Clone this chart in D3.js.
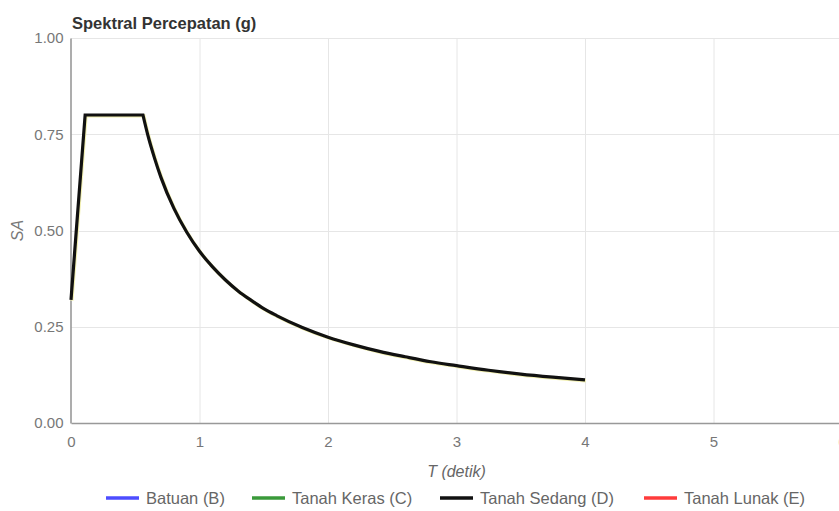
<!DOCTYPE html>
<html>
<head>
<meta charset="utf-8">
<script src="https://cdn.jsdelivr.net/npm/d3@7"></script>
<style>
	body { margin: 0; background: #fff; font-family: 'Liberation Sans', Arial, sans-serif; overflow: hidden; }
</style>
</head>
<body>
<script>
// DATA
const periods = [0, 0.11, 0.56, 0.6, 0.65, 0.7, 0.8, 0.9, 1.0, 1.1, 1.2, 1.3, 1.4, 1.5, 1.6, 1.8, 2.0, 2.2, 2.4, 2.6, 2.8, 3.0, 3.25, 3.5, 3.75, 4.0];
const saSedang = [0.32, 0.80, 0.80, 0.745, 0.688, 0.638, 0.558, 0.496, 0.446, 0.406, 0.372, 0.343, 0.319, 0.297, 0.279, 0.248, 0.223, 0.203, 0.186, 0.172, 0.159, 0.149, 0.137, 0.127, 0.119, 0.112];
const seriesNames = ['Batuan (B)', 'Tanah Keras (C)', 'Tanah Sedang (D)', 'Tanah Lunak (E)'];
const seriesColors = ['#4d4dff', '#3a9a3a', '#111111', '#ff3b3b'];
const xTicks = [0, 1, 2, 3, 4, 5, 6];
const yTicks = [0, 0.25, 0.5, 0.75, 1.0];

// CONFIGURATION
const width = 839;
const height = 511;
const margin = { top: 38, left: 71, bottom: 88 };
const plotRight = 842;

const svg = d3.select('body')
	.append('svg')
	.attr('width', width)
	.attr('height', height);

const xScale = d3.scaleLinear()
	.domain([0, 6])
	.range([margin.left, plotRight]);
const yScale = d3.scaleLinear()
	.domain([0, 1])
	.range([height - margin.bottom, margin.top]);

// GRID
svg.append('g')
	.selectAll('line')
	.data(xTicks.slice(1))
	.enter()
	.append('line')
	.attr('x1', d => xScale(d) + 0.5)
	.attr('x2', d => xScale(d) + 0.5)
	.attr('y1', yScale(1))
	.attr('y2', yScale(0))
	.attr('stroke', '#e6e6e6');
svg.append('g')
	.selectAll('line')
	.data(yTicks.slice(1))
	.enter()
	.append('line')
	.attr('x1', xScale(0))
	.attr('x2', plotRight)
	.attr('y1', d => Math.round(yScale(d)) + 0.5)
	.attr('y2', d => Math.round(yScale(d)) + 0.5)
	.attr('stroke', '#e6e6e6');

// AXES
const xAxis = d3.axisBottom(xScale)
	.tickValues(xTicks)
	.tickSize(0)
	.tickPadding(13)
	.tickFormat(d3.format('d'));
const gx = svg.append('g')
	.attr('transform', `translate(0, ${yScale(0)})`)
	.call(xAxis);

const yAxis = d3.axisLeft(yScale)
	.tickValues(yTicks)
	.tickSize(0)
	.tickPadding(7)
	.tickFormat(d3.format('.2f'));
const gy = svg.append('g')
	.attr('transform', `translate(${xScale(0) - 0.5}, 0)`)
	.call(yAxis);

[gx, gy].forEach(g => {
	g.select('.domain').attr('stroke', '#999').attr('stroke-width', 1.6);
	g.selectAll('text')
		.attr('fill', '#777')
		.style('font-size', '15px')
		.style('font-family', 'Liberation Sans, Arial, sans-serif');
});

// LABELS
svg.append('text')
	.attr('x', 72)
	.attr('y', 29)
	.attr('fill', '#333')
	.style('font-size', '16.5px')
	.style('font-weight', 'bold')
	.text('Spektral Percepatan (g)');

svg.append('text')
	.attr('x', (margin.left + plotRight) / 2)
	.attr('y', 477)
	.attr('text-anchor', 'middle')
	.attr('fill', '#666')
	.style('font-size', '16px')
	.style('font-style', 'italic')
	.text('T (detik)');

svg.append('text')
	.attr('transform', `translate(23, ${(yScale(0) + yScale(1)) / 2}) rotate(-90)`)
	.attr('text-anchor', 'middle')
	.attr('fill', '#777')
	.style('font-size', '16px')
	.style('font-style', 'italic')
	.text('SA');

// LINE: straight ramp and plateau, smooth descending branch
const points = periods.map((t, i) => [t, saSedang[i]]);
const straight = d3.line()
	.x(d => xScale(d[0]))
	.y(d => yScale(d[1]));
const smooth = d3.line()
	.x(d => xScale(d[0]))
	.y(d => yScale(d[1]))
	.curve(d3.curveMonotoneX);
const pathD = straight(points.slice(0, 3)) + smooth(points.slice(2)).replace(/^M/, 'L');

svg.append('path')
	.attr('d', pathD)
	.attr('fill', 'none')
	.attr('stroke', '#f2f0b0')
	.attr('stroke-width', 3.5)
	.attr('transform', 'translate(0.8, 0.8)');
svg.append('path')
	.attr('d', pathD)
	.attr('fill', 'none')
	.attr('stroke', seriesColors[2])
	.attr('stroke-width', 3.2)
	.attr('stroke-linejoin', 'miter');

// LEGEND
const legendX = [106, 252, 440, 644];
const legend = svg.append('g')
	.selectAll('g')
	.data(seriesNames)
	.enter()
	.append('g')
	.attr('transform', (d, i) => `translate(${legendX[i]}, 498)`);
legend.append('line')
	.attr('x1', 0)
	.attr('x2', 33)
	.attr('y1', 0)
	.attr('y2', 0)
	.attr('stroke', (d, i) => seriesColors[i])
	.attr('stroke-width', 3.5);
legend.append('text')
	.attr('x', 40)
	.attr('y', 6)
	.attr('fill', '#666')
	.style('font-size', '16.5px')
	.text(d => d);
</script>
</body>
</html>
